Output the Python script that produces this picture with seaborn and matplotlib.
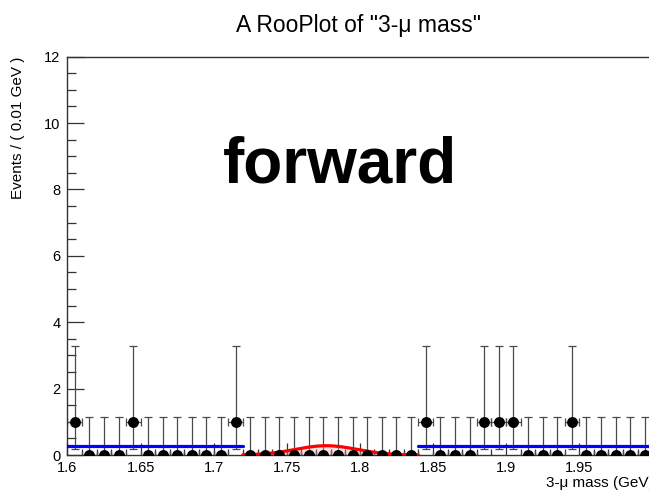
import numpy as np
import pandas as pd
import matplotlib
matplotlib.use("Agg")
import matplotlib.pyplot as plt
from matplotlib.ticker import FixedLocator, MultipleLocator, FixedFormatter
import seaborn as sns

# Binned 3-mu mass data (bin centres in GeV, 0.01 GeV bins) and event counts
bin_centers = [1.605, 1.615, 1.625, 1.635, 1.645, 1.655, 1.665, 1.675, 1.685, 1.695,
               1.705, 1.715, 1.725, 1.735, 1.745, 1.755, 1.765, 1.775, 1.785, 1.795,
               1.805, 1.815, 1.825, 1.835, 1.845, 1.855, 1.865, 1.875, 1.885, 1.895,
               1.905, 1.915, 1.925, 1.935, 1.945, 1.955, 1.965, 1.975, 1.985, 1.995]
counts = [1, 0, 0, 0, 1, 0, 0, 0, 0, 0,
          0, 1, 0, 0, 0, 0, 0, 0, 0, 0,
          0, 0, 0, 0, 1, 0, 0, 0, 1, 1,
          1, 0, 0, 0, 1, 0, 0, 0, 0, 0]
# Asymmetric Poisson (Garwood) errors for n = 0 and n = 1
poisson_err_low = {0: 0.0, 1: 0.827}
poisson_err_high = {0: 1.148, 1: 2.299}
bin_half_width = 0.005

# Fit model: flat background in the sidebands, Gaussian signal in the window
sideband_left = (1.60, 1.72)
sideband_right = (1.84, 2.00)
background_level = 0.28
signal_window = (1.72, 1.84)
signal_mean = 1.777
signal_sigma = 0.021
signal_peak = 0.28

x_ticks = [1.6, 1.65, 1.7, 1.75, 1.8, 1.85, 1.9, 1.95]
x_tick_labels = ["1.6", "1.65", "1.7", "1.75", "1.8", "1.85", "1.9", "1.95"]
y_ticks = [0, 2, 4, 6, 8, 10, 12]
y_tick_labels = ["0", "2", "4", "6", "8", "10", "12"]

sns.set_theme(style="ticks")
plt.rcParams["font.family"] = ["Liberation Sans", "DejaVu Sans"]
plt.rcParams["text.color"] = "black"

fig = plt.figure(figsize=(6.49, 4.91), dpi=100)
ax = fig.add_axes([0.104, 0.0733, 0.901, 0.8112])

data = pd.DataFrame({"mass": bin_centers, "events": counts})
data["lo"] = data["events"].map(poisson_err_low)
data["hi"] = data["events"].map(poisson_err_high)

# Error bars (drawn first, under the model curves)
ax.errorbar(data["mass"], data["events"],
            yerr=[data["lo"], data["hi"]], xerr=bin_half_width,
            fmt="none", ecolor="#4a4a4a", elinewidth=0.9, capsize=2.6,
            capthick=0.9, zorder=2)

# Background model on the sidebands
for lo, hi in (sideband_left, sideband_right):
    bg = pd.DataFrame({"mass": [lo, hi], "pdf": [background_level, background_level]})
    sns.lineplot(data=bg, x="mass", y="pdf", ax=ax, color="#0000ff",
                 linewidth=2.3, zorder=3, legend=False)

# Gaussian signal model in the signal window
xs = np.linspace(signal_window[0], signal_window[1], 200)
sig = pd.DataFrame({"mass": xs,
                    "pdf": signal_peak * np.exp(-0.5 * ((xs - signal_mean) / signal_sigma) ** 2)})
ax.fill_between(sig["mass"], 0, sig["pdf"], color="#ff9999", alpha=0.3,
                linewidth=0, zorder=2.5)
sns.lineplot(data=sig, x="mass", y="pdf", ax=ax, color="#ff0000",
             linewidth=2.3, zorder=3, legend=False)

# Data points
sns.scatterplot(data=data, x="mass", y="events", ax=ax, color="black",
                s=62, edgecolor="black", linewidth=0, zorder=4, legend=False)

ax.set_xlim(1.6, 2.0)
ax.set_ylim(0, 12)

ax.xaxis.set_major_locator(FixedLocator(x_ticks))
ax.xaxis.set_major_formatter(FixedFormatter(x_tick_labels))
ax.xaxis.set_minor_locator(MultipleLocator(0.01))
ax.yaxis.set_major_locator(FixedLocator(y_ticks))
ax.yaxis.set_major_formatter(FixedFormatter(y_tick_labels))
ax.yaxis.set_minor_locator(MultipleLocator(0.5))

ax.tick_params(axis="x", which="major", direction="in", length=8.5, width=0.9,
               color="#333333", labelcolor="black", labelsize=10.5, pad=4)
ax.tick_params(axis="x", which="minor", direction="in", length=4.3, width=0.9,
               color="#333333")
ax.tick_params(axis="y", which="major", direction="in", length=12.5, width=0.9,
               color="#333333", labelcolor="black", labelsize=10.5, pad=5)
ax.tick_params(axis="y", which="minor", direction="in", length=6.5, width=0.9,
               color="#333333")

for side in ("left", "bottom", "top", "right"):
    ax.spines[side].set_visible(True)
    ax.spines[side].set_color("#333333")
    ax.spines[side].set_linewidth(1.0)

ax.set_xlabel("")
ax.set_ylabel("")
fig.text(1.007, 0.003, "3-\u03bc mass (GeV)", ha="right", va="bottom", fontsize=11)
fig.text(0.028, 0.884, "Events / ( 0.01 GeV )", rotation=90, ha="center", va="top",
         fontsize=11)

fig.text(0.553, 0.935, "A RooPlot of \"3-\u03bc mass\"", ha="center", va="baseline",
         fontsize=16.5)
fig.text(0.524, 0.629, "forward", ha="center", va="baseline", fontsize=46,
         fontweight="bold")

fig.savefig("out.png", dpi=100)
